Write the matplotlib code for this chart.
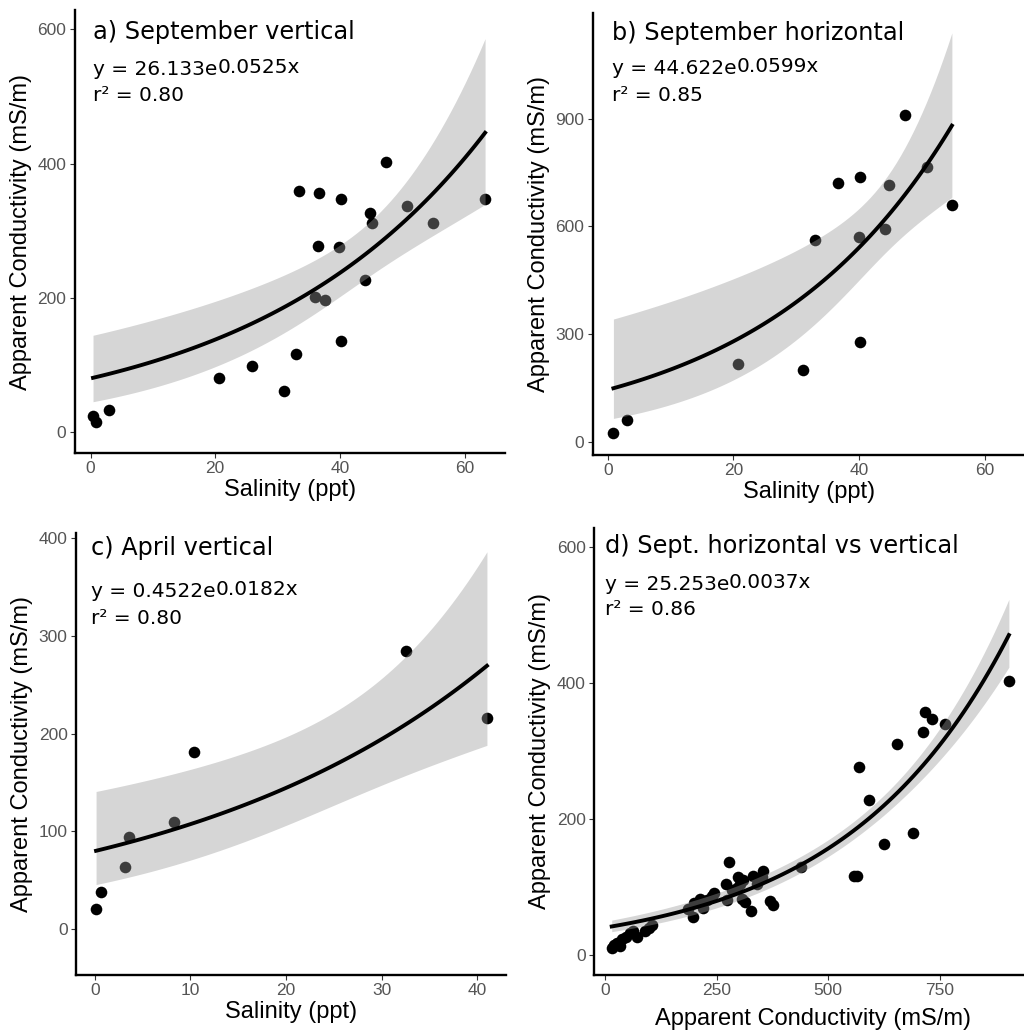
import numpy as np
import matplotlib
matplotlib.use("Agg")
import matplotlib.pyplot as plt

# a) September vertical: salinity (ppt) vs apparent conductivity (mS/m)
a_sal = [0.4, 0.9, 3.0, 20.6, 25.9, 31.1, 33.0, 33.5, 36.7, 36.5, 36.0, 37.6,
         40.2, 39.9, 40.2, 44.1, 44.8, 45.2, 47.4, 50.8, 54.9, 63.3]
a_ec = [24, 15, 33, 81, 99, 61, 117, 360, 357, 277, 201, 197,
        347, 276, 136, 227, 327, 311, 403, 337, 311, 347]

# b) September horizontal
b_sal = [0.9, 3.1, 20.7, 31.1, 33.0, 36.7, 40.2, 40.0, 40.2, 44.1, 44.8, 47.3, 50.8, 54.8]
b_ec = [25, 60, 216, 199, 562, 720, 737, 570, 279, 593, 715, 909, 766, 658]

# c) April vertical
c_sal = [0.14, 0.7, 3.2, 3.6, 8.3, 10.4, 32.5, 41.0]
c_ec = [20.5, 38.5, 64, 94, 109.5, 181, 284, 216]

# d) Sept. horizontal (x) vs vertical (y)
d_hor = [15.6, 20.8, 28.2, 34.2, 38, 47.6, 56.6, 64, 71.6, 90, 99.8, 105,
         187, 198, 200, 213, 220, 228, 239, 244, 271, 279, 273, 284, 297, 302,
         310, 306, 314, 295, 327, 332, 343, 340, 355, 351, 370, 376, 439,
         558, 565, 569, 592, 624, 654, 689, 711, 716, 733, 762, 904]
d_ver = [10.8, 14.7, 18.1, 13.2, 23, 26.9, 31.9, 35.7, 26.9, 35.7, 39.2, 44.1,
         67, 56, 77, 82, 69, 81, 86, 91, 104, 136, 81, 96, 114, 105,
         110, 83, 78, 98, 64, 116, 110, 105, 124, 115, 80, 73, 129,
         116, 116, 277, 228, 163, 311, 180, 328, 358, 347, 339, 403]

panels = [
    dict(x=a_sal, y=a_ec, title="a) September vertical", coef="26.133e", expo="0.0525x",
         r2="r² = 0.80", xlabel="Salinity (ppt)", xlim=(-2.5, 66.5), ylim=(-30.6, 628.6),
         xticks=[0, 20, 40, 60], yticks=[0, 200, 400, 600], xpad=2,
         pos=[0.0732, 0.5619, 0.4200, 0.4284], tpos=(0.043, 0.934, 0.853, 0.794)),
    dict(x=b_sal, y=b_ec, title="b) September horizontal", coef="44.622e", expo="0.0599x",
         r2="r² = 0.85", xlabel="Salinity (ppt)", xlim=(-2.4, 66.4), ylim=(-37, 1194),
         xticks=[0, 20, 40, 60], yticks=[0, 300, 600, 900], xpad=2,
         pos=[0.5788, 0.5600, 0.4219, 0.4274], tpos=(0.044, 0.939, 0.862, 0.802)),
    dict(x=c_sal, y=c_ec, title="c) April vertical", coef="0.4522e", expo="0.0182x",
         r2="r² = 0.80", xlabel="Salinity (ppt)", xlim=(-1.96, 43.0), ylim=(-46.8, 405),
         xticks=[0, 10, 20, 30, 40], yticks=[0, 100, 200, 300, 400], xpad=2,
         pos=[0.0742, 0.0571, 0.4200, 0.4274], tpos=(0.035, 0.950, 0.855, 0.794)),
    dict(x=d_hor, y=d_ver, title="d) Sept. horizontal vs vertical", coef="25.253e", expo="0.0037x",
         r2="r² = 0.86", xlabel="Apparent Conductivity (mS/m)", xlim=(-24, 955), ylim=(-29.4, 628),
         xticks=[0, 250, 500, 750], yticks=[0, 200, 400, 600], xpad=7,
         pos=[0.5801, 0.0571, 0.4274, 0.4323], tpos=(0.024, 0.943, 0.861, 0.805)),
]


def fit_exp(x, y, n=80):
    # gaussian glm with log link, like geom_smooth(method="glm")
    x = np.asarray(x, float)
    y = np.asarray(y, float)
    X = np.column_stack([np.ones_like(x), x])
    beta = np.linalg.lstsq(X, np.log(y), rcond=None)[0]
    for _ in range(200):
        mu = np.exp(X @ beta)
        W = mu ** 2
        z = X @ beta + (y - mu) / mu
        XtW = X.T * W
        beta = np.linalg.solve(XtW @ X, XtW @ z)
    mu = np.exp(X @ beta)
    phi = np.sum((y - mu) ** 2) / (len(y) - 2)
    cov = phi * np.linalg.inv((X.T * mu ** 2) @ X)
    xs = np.linspace(x.min(), x.max(), n)
    Xs = np.column_stack([np.ones_like(xs), xs])
    eta = Xs @ beta
    se = np.sqrt(np.sum((Xs @ cov) * Xs, axis=1))
    return xs, np.exp(eta), np.exp(eta - 1.96 * se), np.exp(eta + 1.96 * se)


fig = plt.figure(figsize=(10.24, 10.34), dpi=100)

for p in panels:
    ax = fig.add_axes(p["pos"])
    ax.scatter(p["x"], p["y"], s=70, color="black", linewidths=0, zorder=2)
    xs, yf, lo, hi = fit_exp(p["x"], p["y"])
    ax.fill_between(xs, lo, hi, color="#999999", alpha=0.4, linewidth=0, zorder=3)
    ax.plot(xs, yf, color="black", lw=2.8, zorder=4)

    ax.set_xlim(p["xlim"])
    ax.set_ylim(p["ylim"])
    ax.set_xticks(p["xticks"])
    ax.set_yticks(p["yticks"])
    for s in ["top", "right"]:
        ax.spines[s].set_visible(False)
    for s in ["left", "bottom"]:
        ax.spines[s].set_linewidth(1.7)
        ax.spines[s].set_color("black")
    ax.tick_params(length=3.6, width=0.8, color="#333333", labelcolor="#555555",
                   labelsize=12.5, pad=2.5)
    for lab in ax.get_xticklabels() + ax.get_yticklabels():
        lab.set_family("Liberation Sans")
    ax.set_xlabel(p["xlabel"], fontsize=17, family="Liberation Sans", labelpad=p["xpad"])
    ax.set_ylabel("Apparent Conductivity (mS/m)", fontsize=17, family="Liberation Sans", labelpad=4)

    tx, ty, ey, ry = p["tpos"]
    ax.text(tx, ty, p["title"], transform=ax.transAxes, fontsize=17.3,
            family="DejaVu Sans", va="baseline", ha="left")
    t = ax.text(tx, ey, "y = " + p["coef"], transform=ax.transAxes, fontsize=14.5,
                family="DejaVu Sans", va="baseline", ha="left")
    ax.annotate(p["expo"], xy=(1, 0), xycoords=t, xytext=(0, 1.5), textcoords="offset points",
                fontsize=14.5, family="DejaVu Sans", va="bottom", ha="left")
    ax.text(tx, ry, p["r2"], transform=ax.transAxes, fontsize=14.5,
            family="DejaVu Sans", va="baseline", ha="left")

fig.savefig("out.png", dpi=100)
